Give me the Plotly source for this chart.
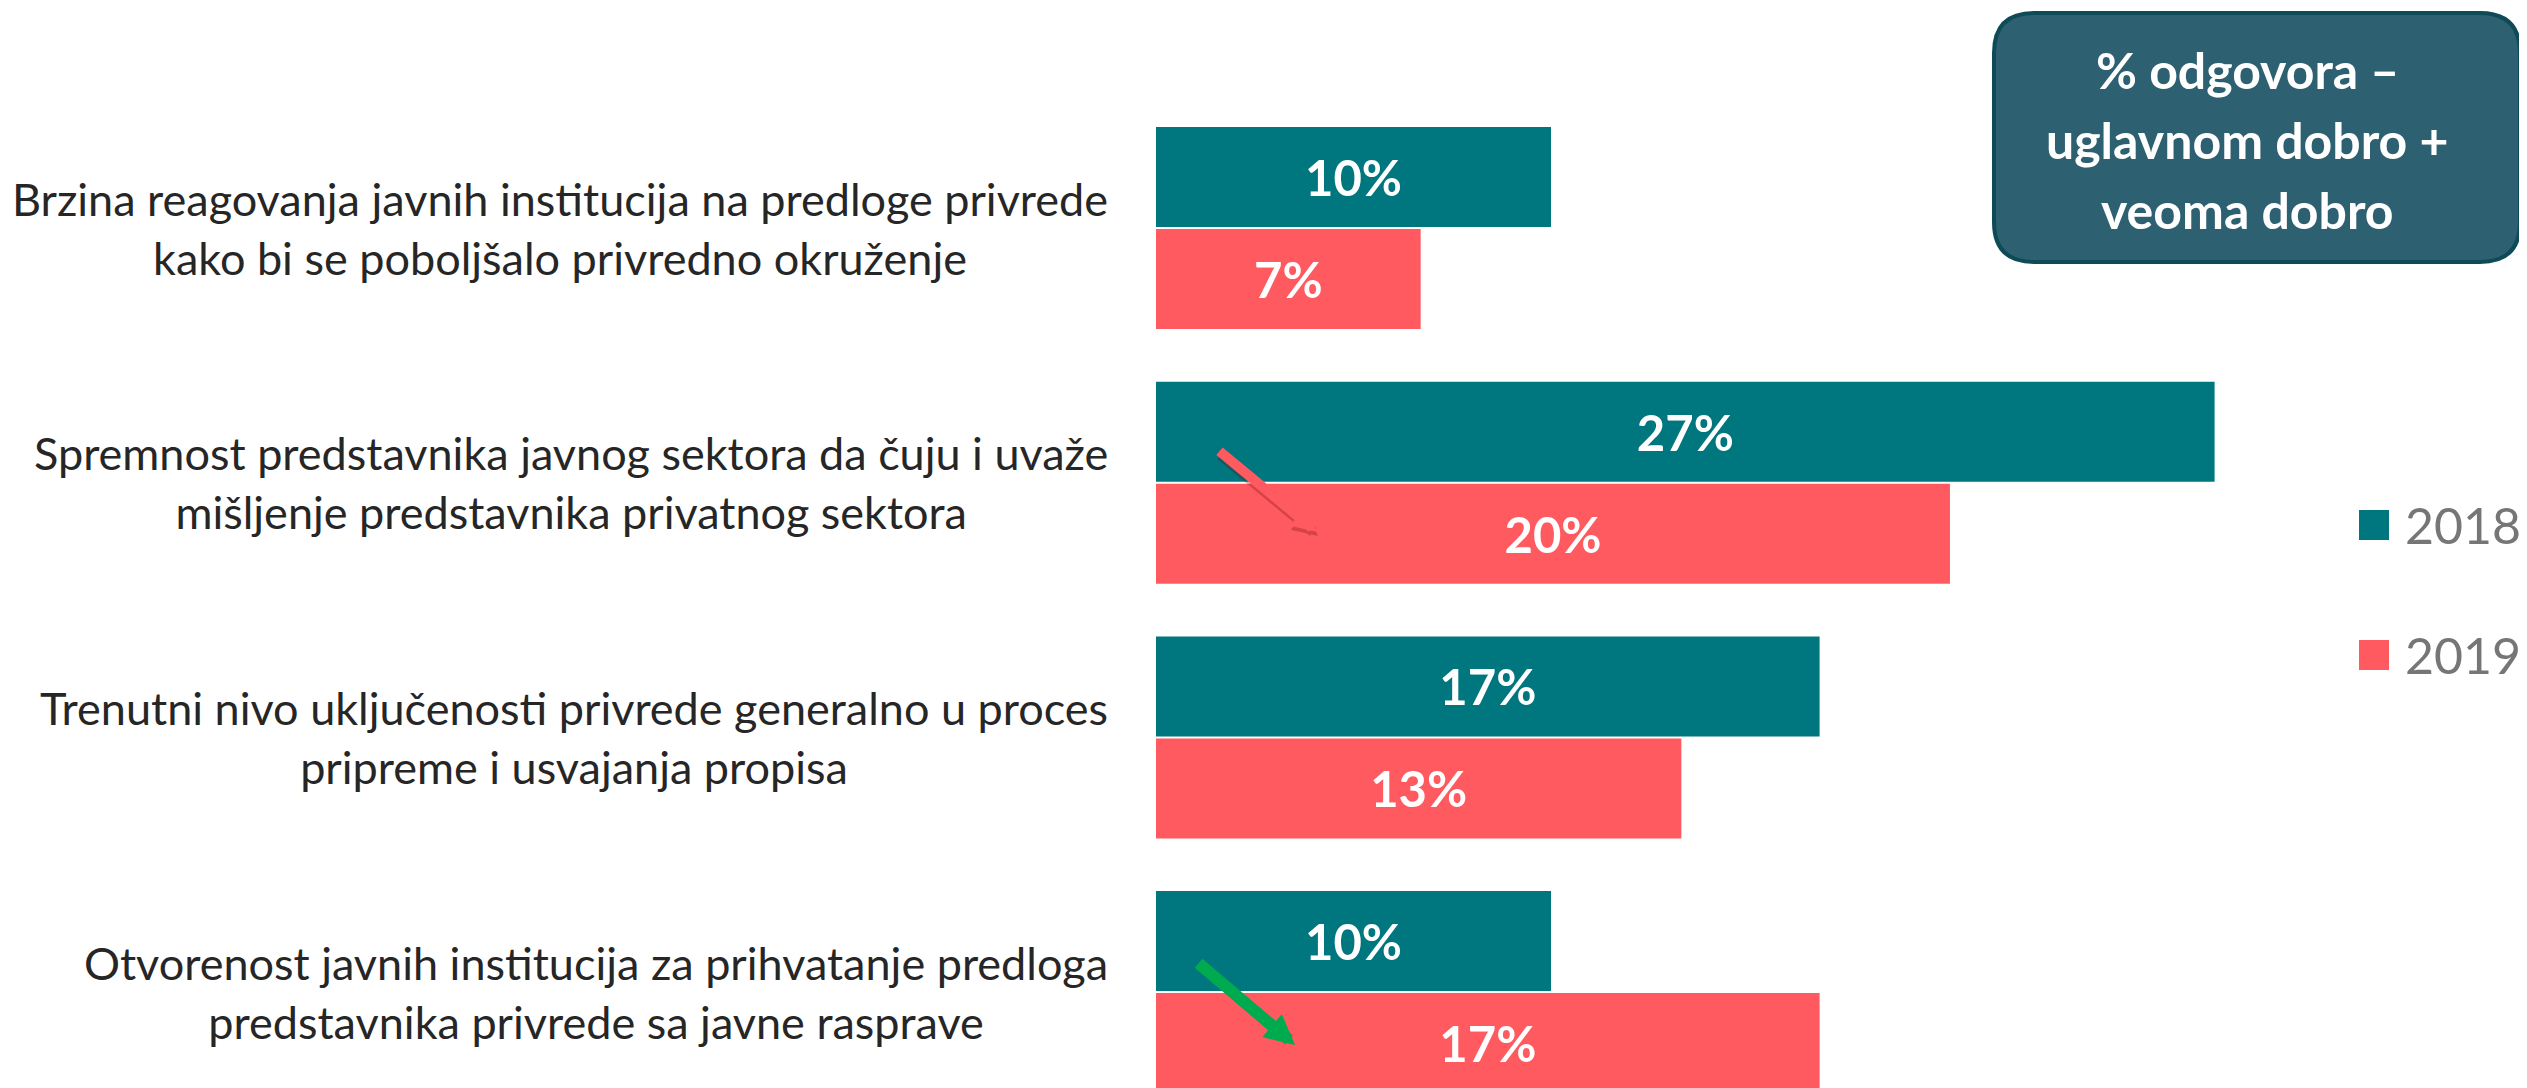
import plotly.graph_objects as go

# ---- data ----
categories = [
    "Brzina reagovanja javnih institucija na predloge privrede<br>kako bi se poboljšalo privredno okruženje",
    "Spremnost predstavnika javnog sektora da čuju i uvaže<br>mišljenje predstavnika privatnog sektora",
    "Trenutni nivo uključenosti privrede generalno u proces<br>pripreme i usvajanja propisa",
    "Otvorenost javnih institucija za prihvatanje predloga<br>predstavnika privrede sa javne rasprave",
]
series_names = ["2018", "2019"]
vals_2018 = [10.0, 26.8, 16.8, 10.0]
vals_2019 = [6.7, 20.1, 13.3, 16.8]
box_lines = ["% odgovora –", "uglavnom dobro +", "veoma dobro"]

# ---- layout constants (pixels, in screenshot coordinates) ----
OFF = 8                   # default page body margin
W, H = 2527 - OFF, 1088 - OFF
PL = 1156 - OFF           # plot left inside figure
PW = W - PL               # plot width
PX_PER_UNIT = 39.5        # px per percent
ROW = 254.7               # px per category
C0 = 228 - OFF            # center of first category (px from figure top)

TEAL = "#00767E"
RED = "#FF5A5F"

def px(xs):
    return (xs - OFF - PL) / PW

def py(ys):
    return 1 - (ys - OFF) / H

idx = list(range(len(categories)))
bw = 100 / ROW
label_font = dict(family="Lato", size=49, color="white", weight="bold")
fig = go.Figure()
fig.add_trace(go.Bar(
    y=idx, x=vals_2018, name=series_names[0], orientation="h",
    marker=dict(color=TEAL, line=dict(width=0)),
    width=bw, offset=-101 / ROW,
    texttemplate="%{x:.0f}%", textposition="inside", insidetextanchor="middle",
    textangle=0, constraintext="none", textfont=label_font,
    showlegend=False,
))
fig.add_trace(go.Bar(
    y=idx, x=vals_2019, name=series_names[1], orientation="h",
    marker=dict(color=RED, line=dict(width=0)),
    width=bw, offset=1 / ROW,
    texttemplate="%{x:.0f}%", textposition="inside", insidetextanchor="middle",
    textangle=0, constraintext="none", textfont=label_font,
    showlegend=False,
))

annotations = []
shapes = []

# category labels
for i, c in enumerate(categories):
    annotations.append(dict(
        text=c, xref="paper", yref="y", x=px(1110), y=i,
        xanchor="right", yanchor="middle", align="center", showarrow=False,
        font=dict(family="Lato", size=45, color="#262626"),
    ))

# legend (manual, large swatches)
for name, col, yc in [(series_names[0], TEAL, 525), (series_names[1], RED, 655)]:
    shapes.append(dict(type="rect", xref="paper", yref="paper",
                       x0=px(2359), x1=px(2389), y0=py(yc + 15), y1=py(yc - 15),
                       fillcolor=col, line=dict(width=0)))
    annotations.append(dict(
        text=name, xref="paper", yref="paper", x=px(2403), y=py(yc),
        xanchor="left", yanchor="middle", showarrow=False,
        font=dict(family="Lato", size=50, color="#767676"),
    ))

# rounded box top right
x0, x1, y0, y1, r = 1994, 2520, 13, 262, 40
def P(xs, ys):
    return f"{px(xs):.6f},{py(ys):.6f}"
path = (f"M {P(x0 + r, y0)} L {P(x1 - r, y0)} Q {P(x1, y0)} {P(x1, y0 + r)} "
        f"L {P(x1, y1 - r)} Q {P(x1, y1)} {P(x1 - r, y1)} "
        f"L {P(x0 + r, y1)} Q {P(x0, y1)} {P(x0, y1 - r)} "
        f"L {P(x0, y0 + r)} Q {P(x0, y0)} {P(x0 + r, y0)} Z")
shapes.append(dict(type="path", xref="paper", yref="paper", path=path,
                   fillcolor="#2D6071", line=dict(color="#0E4B56", width=4)))
for t, yc in zip(box_lines, [70, 140, 210]):
    annotations.append(dict(
        text=t, xref="paper", yref="paper", x=px(2247), y=py(yc),
        xanchor="center", yanchor="middle", showarrow=False,
        font=dict(family="Lato", size=50, color="white", weight="bold"),
    ))

# arrows
annotations.append(dict(  # soft shadow of red arrow
    text="", xref="paper", yref="paper", x=px(1318), y=py(536),
    ax=-99, ay=-82, axref="pixel", ayref="pixel", showarrow=True,
    arrowhead=2, arrowsize=0.5, arrowwidth=10, arrowcolor="rgba(90,0,0,0.25)",
))
annotations.append(dict(
    text="", xref="paper", yref="paper", x=px(1317), y=py(532),
    ax=-99, ay=-82, axref="pixel", ayref="pixel", showarrow=True,
    arrowhead=2, arrowsize=0.5, arrowwidth=10, arrowcolor=RED,
))
annotations.append(dict(
    text="", xref="paper", yref="paper", x=px(1295), y=py(1045),
    ax=-98, ay=-83, axref="pixel", ayref="pixel", showarrow=True,
    arrowhead=2, arrowsize=0.5, arrowwidth=12, arrowcolor="#00AA4F",
))

fig.update_layout(
    width=W, height=H,
    margin=dict(l=PL, r=0, t=0, b=0, autoexpand=False),
    paper_bgcolor="white", plot_bgcolor="white",
    barmode="group",
    xaxis=dict(range=[0, PW / PX_PER_UNIT], visible=False, showgrid=False, zeroline=False),
    yaxis=dict(range=[(H - C0) / ROW, -C0 / ROW], showticklabels=False,
               showgrid=False, zeroline=False, showline=False, ticks=""),
    annotations=annotations, shapes=shapes,
    showlegend=False,
    font=dict(family="Lato"),
)

fig.write_html("out.html")
